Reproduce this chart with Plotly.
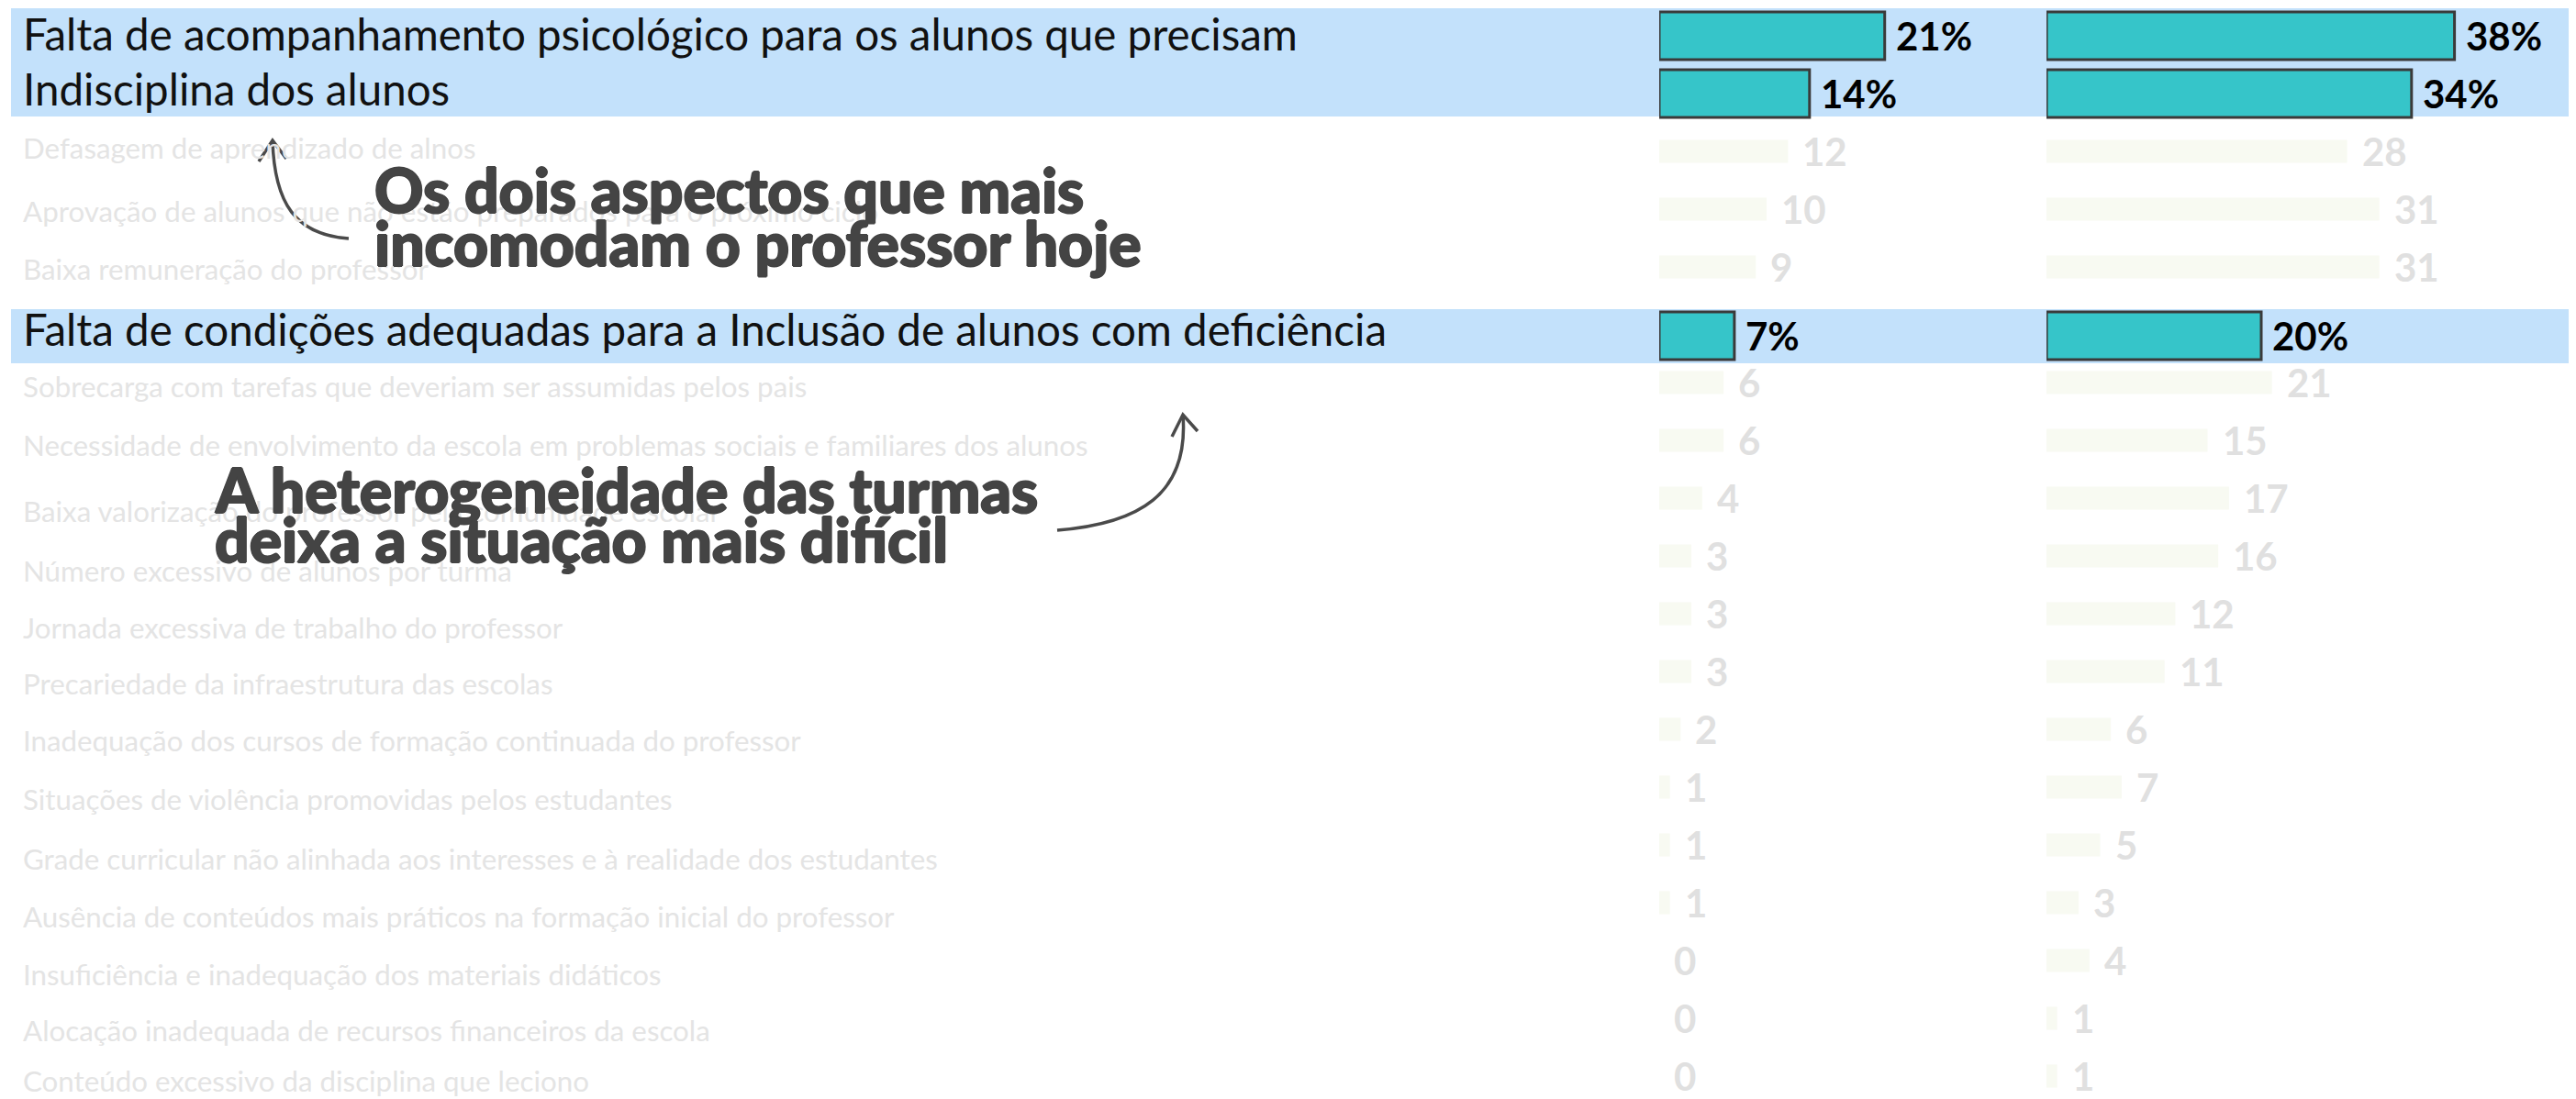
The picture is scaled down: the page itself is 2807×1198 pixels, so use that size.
import plotly.graph_objects as go

# ---------------- data ----------------
categories = [
    "Falta de acompanhamento psicológico para os alunos que precisam",
    "Indisciplina dos alunos",
    "Defasagem de aprendizado de alnos",
    "Aprovação de alunos que não estão preparados para o próximo ciclo",
    "Baixa remuneração do professor",
    "Falta de condições adequadas para a Inclusão de alunos com deficiência",
    "Sobrecarga com tarefas que deveriam ser assumidas pelos pais",
    "Necessidade de envolvimento da escola em problemas sociais e familiares dos alunos",
    "Baixa valorização do professor pela comunidade escolar",
    "Número excessivo de alunos por turma",
    "Jornada excessiva de trabalho do professor",
    "Precariedade da infraestrutura das escolas",
    "Inadequação dos cursos de formação continuada do professor",
    "Situações de violência promovidas pelos estudantes",
    "Grade curricular não alinhada aos interesses e à realidade dos estudantes",
    "Ausência de conteúdos mais práticos na formação inicial do professor",
    "Insuficiência e inadequação dos materiais didáticos",
    "Alocação inadequada de recursos financeiros da escola",
    "Conteúdo excessivo da disciplina que leciono",
]
values_left = [21, 14, 12, 10, 9, 7, 6, 6, 4, 3, 3, 3, 2, 1, 1, 1, 0, 0, 0]
values_right = [38, 34, 28, 31, 31, 20, 21, 15, 17, 16, 12, 11, 6, 7, 5, 3, 4, 1, 1]
highlighted = [0, 1, 5]

annotation_1 = ["Os dois aspectos que mais", "incomodam o professor hoje"]
annotation_2 = ["A heterogeneidade das turmas", "deixa a situação mais difícil"]

# ---------------- styling ----------------
PAGE_W, PAGE_H = 2807, 1198
OFF = 8  # page body margin
W, H = PAGE_W - OFF, PAGE_H - OFF
TEAL = "#36C5C9"
FADED = "#F8FAF2"
BAND = "#C3E1FB"
DARK = "#444444"
LABEL_GRAY = "#E4E4E4"
NUM_GRAY = "#E0E0E0"

# label vertical placement tweaks (px, downward) — layout style only
label_dy = [-3, -6, -4, 2, 2, 4, 4, 5, 14, 16, 15, 13, 12, 13, 15, 15, 15, 13, 5]

n = len(categories)
is_hi = [i in highlighted for i in range(n)]
nudge = [0.19 if i == 5 else 0.0 for i in range(n)]
widths = [0.825 if h else 0.40 for h in is_hi]
offsets = [-w / 2 + d for w, d in zip(widths, nudge)]
colors = [TEAL if h else FADED for h in is_hi]
line_w = [3 if h else 0 for h in is_hi]


def px_x(x):
    return (x - OFF) / W


def px_y(y):
    return 1 - (y - OFF) / H


fig = go.Figure()
for vals, xa in [(values_left, "x"), (values_right, "x2")]:
    fig.add_trace(go.Bar(
        y=categories, x=vals, orientation="h", xaxis=xa, yaxis="y",
        width=widths, offset=offsets,
        marker=dict(color=colors, line=dict(color="#3a3a3a", width=line_w)),
        hoverinfo="skip", showlegend=False,
    ))

annotations = []
for i, c in enumerate(categories):
    annotations.append(dict(
        x=px_x(23), xref="paper", y=c, yref="y", yshift=-label_dy[i],
        text=c, showarrow=False, xanchor="left", yanchor="middle",
        font=dict(family="Lato", size=47.5 if is_hi[i] else 31.3,
                  color="#111111" if is_hi[i] else LABEL_GRAY),
    ))
for vals, xa in [(values_left, "x"), (values_right, "x2")]:
    for i, v in enumerate(vals):
        annotations.append(dict(
            x=v, xref=xa, y=i + nudge[i], yref="y",
            text=f"{v}%" if is_hi[i] else f"{v}",
            showarrow=False, xanchor="left", yanchor="middle",
            xshift=10 if is_hi[i] else 14,
            font=dict(family="Lato", size=42, weight="bold",
                      color="#000000" if is_hi[i] else NUM_GRAY),
        ))
thick = "1px 0px 0px #444444, -1px 0px 0px #444444, 0px 1px 0px #444444, 0px -1px 0px #444444"
for lines, x0, ys in [(annotation_1, 406, [207, 264]), (annotation_2, 232, [533, 587])]:
    for t, yy in zip(lines, ys):
        annotations.append(dict(
            x=px_x(x0), xref="paper", y=px_y(yy), yref="paper",
            text=t, showarrow=False, xanchor="left", yanchor="middle",
            font=dict(family="Lato", size=66, weight=900, color=DARK, shadow=thick),
        ))

shapes = []
for y0, y1 in [(-0.476, 1.397), (4.73, 5.667)]:
    shapes.append(dict(type="rect", xref="paper", x0=px_x(12), x1=1, yref="y",
                       y0=y0, y1=y1, fillcolor=BAND, line=dict(width=0),
                       layer="below"))


def path(points_cmd):
    out = []
    for tok in points_cmd:
        if isinstance(tok, str):
            out.append(tok)
        else:
            out.append(f"{px_x(tok[0]):.5f},{px_y(tok[1]):.5f}")
    return " ".join(out)


arrow_paths = [
    ["M", (380, 260), "C", (322, 256), (299, 222), (297, 153)],
    ["M", (282, 176), "L", (297, 153), "L", (312, 173)],
    ["M", (1152, 578), "C", (1240, 571), (1296, 540), (1289, 452)],
    ["M", (1277, 476), "L", (1289, 452), "L", (1305, 470)],
]
for p in arrow_paths:
    shapes.append(dict(type="path", xref="paper", yref="paper", path=path(p),
                       line=dict(color="#4a4a4a", width=3.5), layer="above"))

left_start, right_start, ppu = 1808, 2230, 11.7
row0, pitch = 39 - OFF, 63.0
fig.update_layout(
    width=W, height=H, margin=dict(l=0, r=0, t=0, b=0),
    paper_bgcolor="white", plot_bgcolor="rgba(0,0,0,0)",
    barmode="overlay",
    xaxis=dict(domain=[px_x(left_start), px_x(left_start + 30 * ppu)], range=[0, 30],
               visible=False, fixedrange=True),
    xaxis2=dict(domain=[px_x(right_start), 1.0], range=[0, (PAGE_W - right_start) / ppu],
                visible=False, anchor="y", fixedrange=True),
    yaxis=dict(type="category", categoryorder="array", categoryarray=categories,
               range=[(H - row0) / pitch, -row0 / pitch], visible=False, fixedrange=True),
    annotations=annotations, shapes=shapes,
)

fig.write_html("out.html")
